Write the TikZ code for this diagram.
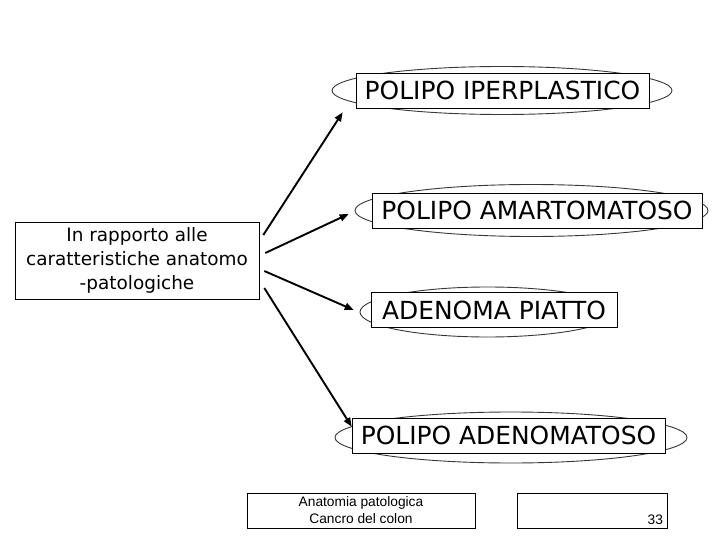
\documentclass[tikz,border=0pt]{standalone}
\usepackage{fontspec}
\setmainfont{DejaVu Sans}
\newfontfamily\footfont{Liberation Sans}
\usetikzlibrary{arrows.meta,positioning,calc,backgrounds}
\definecolor{ink}{RGB}{0,0,0}
\definecolor{rim}{RGB}{55,55,55}
\tikzset{
  every picture/.style={color=ink, line width=0.6bp},
  box/.style={draw=ink, fill=white, inner sep=0pt, align=center},
  title/.style={box, font=\fontsize{25}{28}\selectfont, minimum height=35bp},
  topic/.style={box, font=\fontsize{18.5}{24}\selectfont, minimum width=244bp, minimum height=77bp},
  foot/.style={box, font=\footfont\fontsize{13.8}{17}\selectfont, minimum height=35bp, line width=0.8bp},
  halo/.style={draw=rim, line width=0.9bp},
  flow/.style={-{Triangle[length=9bp,width=7bp]}, line width=1.9bp},
}

\begin{document}
\begin{tikzpicture}[x=1bp, y=-1bp]
  \useasboundingbox (0,0) rectangle (720,540);
  % source box
  \node[topic] (src) at (137,260.5) {In rapporto alle\\caratteristiche anatomo\\-patologiche};
  % the four kinds
  \node[title, minimum width=293bp] (iper) at (502.5,90.5) {POLIPO IPERPLASTICO};
  \node[title, minimum width=330bp] (amart) at (537,210.5) {POLIPO AMARTOMATOSO};
  \node[title, minimum width=246bp] (piatto) at (494,310) {ADENOMA PIATTO};
  \node[title, minimum width=313bp] (aden) at (508.5,435.5) {POLIPO ADENOMATOSO};
  \begin{scope}[on background layer]
    \draw[halo] ([xshift=-0.5bp]iper.center) ellipse [x radius=170, y radius=24];
    \draw[halo] ([xshift=-5.5bp]amart.center) ellipse [x radius=176.5, y radius=26];
    \draw[halo] ([xshift=-6.5bp,yshift=-2bp]piatto.center) ellipse [x radius=127.5, y radius=25];
    \draw[halo] ([xshift=2.5bp,yshift=-2bp]aden.center) ellipse [x radius=176, y radius=25.5];
  \end{scope}
  % arrow ends
  \coordinate (e1) at ($(iper.south west)+(-13,4)$);
  \coordinate (e2) at ($(amart.west)+(-23,3.5)$);
  \coordinate (e3) at ($(piatto.west)+(-17,0)$);
  \coordinate (e4) at ($(aden.north west)+(0,9)$);
  \draw[flow] ($(src.east)+(4,-25.5)$) -- (e1);
  \draw[flow] ($(src.east)+(6,-7.5)$) -- (e2);
  \draw[flow] ($(src.east)+(5,10.5)$) -- (e3);
  \draw[flow] ($(src.east)+(5,27.5)$) -- (e4);
  % footer
  \node[foot, minimum width=228bp] (course) at (361,510.5) {Anatomia patologica\\Cancro del colon};
  \node[foot, minimum width=150bp, text width=142bp, align=right] (page) at (592,510.5) {\strut\\33};
\end{tikzpicture}
\end{document}
